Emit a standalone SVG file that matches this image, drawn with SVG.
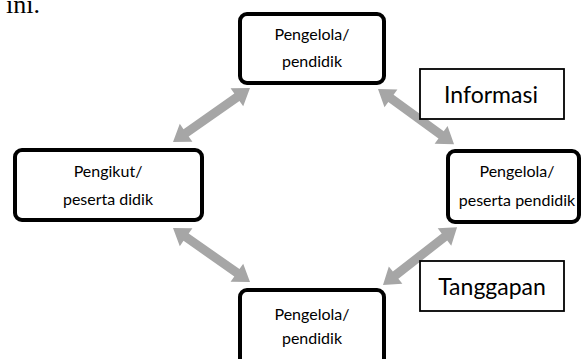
<svg xmlns="http://www.w3.org/2000/svg" width="582" height="359" viewBox="0 0 582 359">
<style>
.node{fill:#fff;stroke:#000;stroke-width:4}
.lbl{fill:#fff;stroke:#000;stroke-width:1.8}
.t{font-family:Lato,"Open Sans","Liberation Sans",sans-serif;font-size:16px;fill:#000;text-anchor:middle}
.tl{font-family:Lato,"Open Sans","Liberation Sans",sans-serif;font-size:23px;fill:#000;text-anchor:middle}
.arr{fill:#a6a6a6}
</style>
<defs>
<path id="dbl" class="arr" d="M0,0 L16,-11 L16,-4.5 L78,-4.5 L78,-11 L94,0 L78,11 L78,4.5 L16,4.5 L16,11 Z"/>
</defs>
<rect width="582" height="359" fill="#fff"/>
<text x="6" y="13" font-family="Liberation Serif,serif" font-size="26">ini.</text>
<g id="connectors">
<use href="#dbl" transform="translate(173,142) rotate(-35)"/>
<use href="#dbl" transform="translate(378,89) rotate(36)"/>
<use href="#dbl" transform="translate(173,228) rotate(35)"/>
<use href="#dbl" transform="translate(383,285) rotate(-38)"/>
</g>
<g id="top">
<rect class="node" x="240" y="14" width="144" height="69" rx="7"/>
<text class="t" x="312" y="40">Pengelola/</text>
<text class="t" x="312" y="67">pendidik</text>
</g>
<g id="left">
<rect class="node" x="15" y="150" width="187" height="70" rx="7"/>
<text class="t" x="108" y="177">Pengikut/</text>
<text class="t" x="108" y="205">peserta didik</text>
</g>
<g id="right">
<rect class="node" x="448" y="151" width="131" height="71" rx="7"/>
<text class="t" x="517" y="177">Pengelola/</text>
<text class="t" x="517" y="206">peserta pendidik</text>
</g>
<g id="bottom">
<rect class="node" x="240" y="290" width="144" height="80" rx="7"/>
<text class="t" x="312" y="320">Pengelola/</text>
<text class="t" x="312" y="344">pendidik</text>
</g>
<g id="informasi">
<rect class="lbl" x="420" y="69" width="144" height="50"/>
<text class="tl" x="491" y="103">Informasi</text>
</g>
<g id="tanggapan">
<rect class="lbl" x="420" y="261" width="144" height="50"/>
<text class="tl" x="492" y="295">Tanggapan</text>
</g>
</svg>
